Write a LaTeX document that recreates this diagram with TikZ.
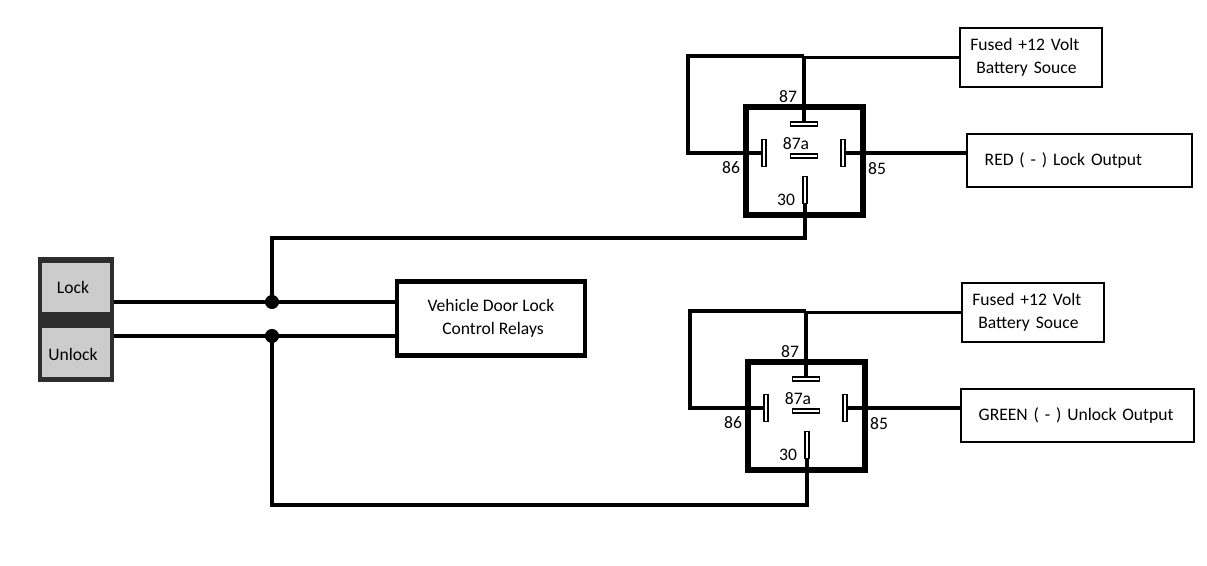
\documentclass[tikz,border=0pt]{standalone}
\usepackage{fontspec}
\setmainfont{Carlito}
\usetikzlibrary{positioning}
\tikzset{
	wire/.style={line width=1.9pt, line join=miter},
	pinh/.style={draw, line width=0.9pt, minimum width=15.5pt, minimum height=2.4pt, inner sep=0pt},
	pinv/.style={draw, line width=0.9pt, minimum width=2.4pt, minimum height=15.5pt, inner sep=0pt},
	lbl/.style={font=\fontsize{10}{11}\selectfont, inner sep=0pt},
	txtbox/.style={draw, line width=1.3pt, font=\fontsize{10}{12}\selectfont, align=left, inner sep=0pt},
	dot/.style={circle, fill, inner sep=0pt, minimum size=8pt}
}
% one relay with its supply box and output box
\newcommand{\relay}[5]{%
	\begin{scope}[shift={(#2)}]
	\draw[line width=2.9pt] (746,107) rectangle (863,215);
	\node[pinh] (#1-87) at (804,124) {};
	\node[pinh] (#1-87a) at (804,156) {};
	\node[pinv] (#1-86) at (764,153) {};
	\node[pinv] (#1-85) at (843,153) {};
	\node[pinv] (#1-30) at (805,190) {};
	\node[lbl] at (788,97) {87};
	\node[lbl] at (796,144) {87a};
	\node[lbl] at (731,168) {86};
	\node[lbl] at (877,169) {85};
	\node[lbl] at (786,200) {30};
	\node[txtbox, text width=69pt, minimum height=33.5pt, inner xsep=6pt] (#1-fuse) at (1031,57.5) {Fused +12 Volt\\[1pt]\ Battery Souce};
	\node[txtbox, text width=#4pt, minimum height=30pt, inner xsep=10pt, anchor=west] (#1-out) at (#3,160.5) {\mbox{#5}};
	\coordinate (#1-tl) at (688,56);
	\coordinate (#1-bl) at (688,153);
	\draw[wire] (#1-87.north) |- (#1-fuse.west);
	\draw[wire] (#1-86.west) -- (#1-bl) -- (#1-tl) -- (#1-87.north |- #1-tl);
	\draw[wire] (#1-85.east) -- (#1-out.west |- #1-85.east);
	\end{scope}}

\begin{document}
\begin{tikzpicture}[x=0.02cm, y=-0.02cm]
	\useasboundingbox (0,0) rectangle (1207,565);

	% switch
	\fill[black!82] (38,257) rectangle (114,382);
	\fill[black!20] (42,263) rectangle (110,312);
	\fill[black!20] (42,328) rectangle (110,377);
	\node[lbl] (lock) at (73,287) {Lock};
	\node[lbl] (unlock) at (73,354) {Unlock};
	\coordinate (sw-l) at (114,302);
	\coordinate (sw-u) at (114,336);

	% control relays
	\node[txtbox, line width=2.6pt, align=center, minimum width=107pt, minimum height=42pt] (ctrl) at (491,318.5) {Vehicle Door Lock\\[1pt]\ Control Relays};

	\relay{r1}{0,0}{966}{108}{RED ( - ) Lock Output}
	\relay{r2}{2,255}{958}{112.7}{GREEN ( - ) Unlock Output}

	\node[dot] (j1) at (272,302) {};
	\node[dot] (j2) at (272,336) {};
	\draw[wire] (sw-l) -- (sw-l -| ctrl.west);
	\draw[wire] (sw-u) -- (sw-u -| ctrl.west);
	\draw[wire] (j1.center) -- (272,238) -| (r1-30.south);
	\draw[wire] (j2.center) -- (272,505) -| (r2-30.south);

\end{tikzpicture}
\end{document}
